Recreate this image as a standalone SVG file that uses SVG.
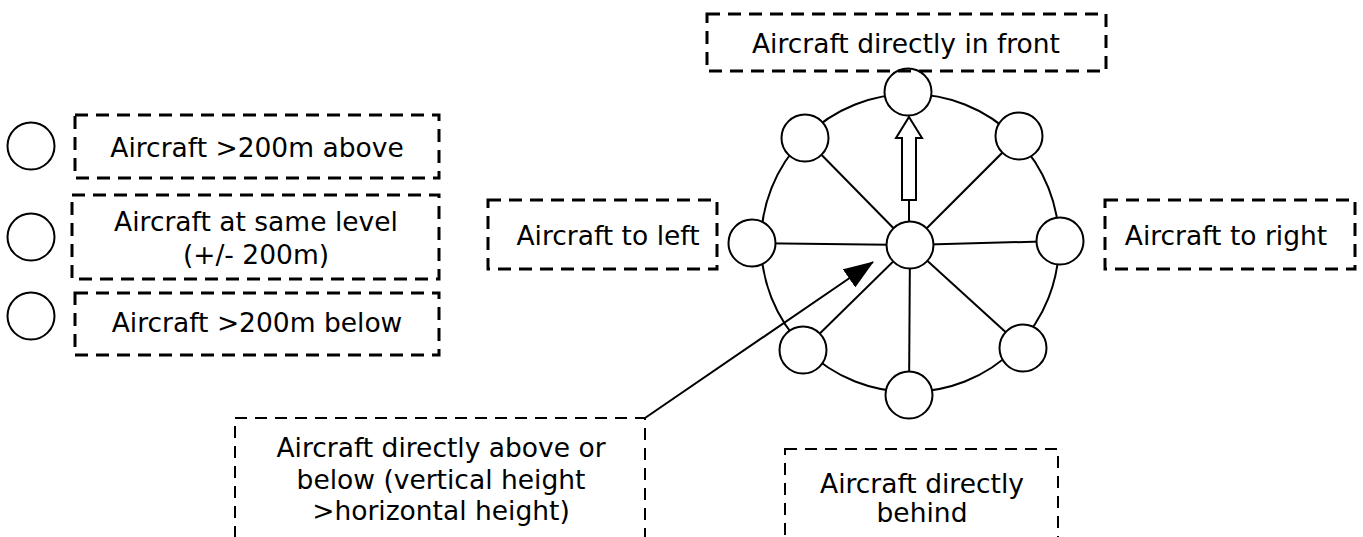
<svg xmlns="http://www.w3.org/2000/svg" width="1363" height="537" viewBox="0 0 1363 537">
  <style>
    .lbl { fill: none; stroke: #000; stroke-width: 3; stroke-dasharray: 13 8; }
    .lbl-thin { fill: none; stroke: #000; stroke-width: 2; stroke-dasharray: 12 8; }
    .node { fill: #fff; stroke: #000; stroke-width: 2; }
    .ring { fill: none; stroke: #000; stroke-width: 2; }
    .spoke { stroke: #000; stroke-width: 2; }
    text { font-family: "DejaVu Sans", Verdana, sans-serif; font-size: 26.5px; fill: #000; text-anchor: middle; }
  </style>
  <defs>
    <marker id="ptr" viewBox="0 0 30 22" refX="29" refY="11" markerWidth="30" markerHeight="22" markerUnits="userSpaceOnUse" orient="auto">
      <path d="M0,0 L30,11 L0,22 Z" fill="#000"/>
    </marker>
  </defs>

  <!-- legend -->
  <g id="legend-above">
    <circle class="node" cx="31" cy="146" r="23.5"/>
    <rect class="lbl" x="75" y="115" width="364" height="63"/>
    <text x="257" y="157">Aircraft &gt;200m above</text>
  </g>
  <g id="legend-level">
    <circle class="node" cx="31" cy="237" r="23.5"/>
    <rect class="lbl" x="72" y="195" width="367" height="84"/>
    <text x="256" y="231">Aircraft at same level</text>
    <text x="256" y="264">(+/- 200m)</text>
  </g>
  <g id="legend-below">
    <circle class="node" cx="31" cy="316" r="23.5"/>
    <rect class="lbl" x="75" y="293" width="364" height="62"/>
    <text x="257" y="332">Aircraft &gt;200m below</text>
  </g>

  <!-- connectors: spokes and pointer -->
  <g id="connectors">
    <circle class="ring" cx="910" cy="243" r="149"/>
    <line class="spoke" x1="910" y1="245" x2="805" y2="138"/>
    <line class="spoke" x1="910" y1="245" x2="1019" y2="136"/>
    <line class="spoke" x1="910" y1="245" x2="752" y2="243"/>
    <line class="spoke" x1="910" y1="245" x2="1060" y2="241"/>
    <line class="spoke" x1="910" y1="245" x2="803" y2="350"/>
    <line class="spoke" x1="910" y1="245" x2="1023" y2="348"/>
    <line class="spoke" x1="910" y1="245" x2="909" y2="395"/>
    <line class="spoke" x1="909" y1="245" x2="909" y2="200"/>
    <polygon id="heading" points="909,117 922,138 916,138 916,200 902,200 902,138 896,138" fill="#fff" stroke="#000" stroke-width="2"/>
  </g>

  <!-- ring nodes -->
  <g id="node-front"><circle class="node" cx="908" cy="92" r="23.5"/></g>
  <g id="node-front-left"><circle class="node" cx="805" cy="138" r="23.5"/></g>
  <g id="node-front-right"><circle class="node" cx="1019" cy="136" r="23.5"/></g>
  <g id="node-left"><circle class="node" cx="752" cy="243" r="23.5"/></g>
  <g id="node-centre"><circle class="node" cx="910" cy="245" r="23.5"/></g>
  <g id="node-right"><circle class="node" cx="1060" cy="241" r="23.5"/></g>
  <g id="node-rear-left"><circle class="node" cx="803" cy="350" r="23.5"/></g>
  <g id="node-rear-right"><circle class="node" cx="1023" cy="348" r="23.5"/></g>
  <g id="node-rear"><circle class="node" cx="909" cy="395" r="23.5"/></g>

  <g id="pointer">
    <line x1="645" y1="418" x2="873" y2="262" stroke="#000" stroke-width="2" marker-end="url(#ptr)"/>
  </g>

  <!-- labels -->
  <g id="label-front">
    <rect class="lbl" x="707" y="14" width="399" height="57"/>
    <text x="906" y="53">Aircraft directly in front</text>
  </g>
  <g id="label-left">
    <rect class="lbl" x="488" y="200" width="229" height="69"/>
    <text x="608" y="245">Aircraft to left</text>
  </g>
  <g id="label-right">
    <rect class="lbl" x="1105" y="200" width="250" height="69"/>
    <text x="1226" y="245">Aircraft to right</text>
  </g>
  <g id="label-overhead">
    <rect class="lbl-thin" x="235" y="418" width="410" height="150"/>
    <text x="441" y="457">Aircraft directly above or</text>
    <text x="441" y="489">below (vertical height</text>
    <text x="441" y="520">&gt;horizontal height)</text>
  </g>
  <g id="label-behind">
    <rect class="lbl-thin" x="785" y="449" width="273" height="120"/>
    <text x="922" y="493">Aircraft directly</text>
    <text x="922" y="522">behind</text>
  </g>
</svg>
